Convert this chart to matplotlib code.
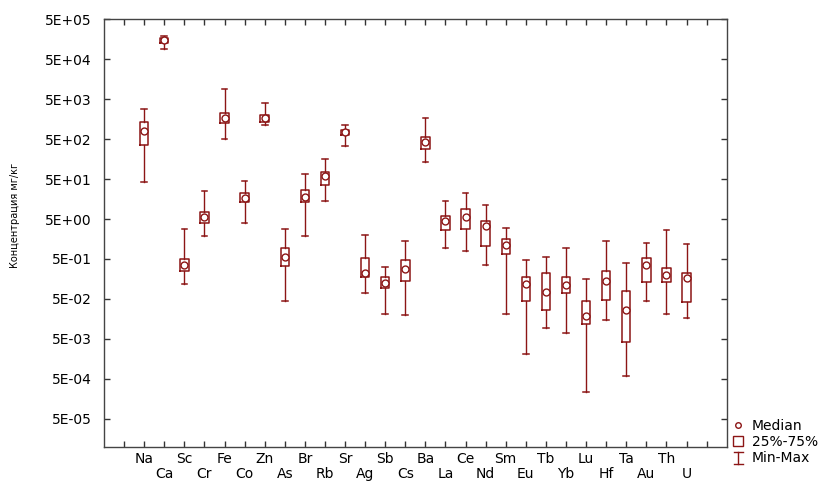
import matplotlib

matplotlib.use("Agg")
import matplotlib.pyplot as plt
from matplotlib.lines import Line2D
from matplotlib.patches import Rectangle
from matplotlib.legend_handler import HandlerBase
from matplotlib.ticker import FixedLocator, NullLocator

elements = ["Na", "Ca", "Sc", "Cr", "Fe", "Co", "Zn", "As", "Br", "Rb",
            "Sr", "Ag", "Sb", "Cs", "Ba", "La", "Ce", "Nd", "Sm", "Eu",
            "Tb", "Yb", "Lu", "Hf", "Ta", "Au", "Th", "U"]

v_min = [41.6, 88900, 0.115, 1.83, 506, 4.09, 1132, 0.0433, 1.93, 14.3,
         330, 0.0687, 0.0213, 0.0197, 137, 0.953, 0.77, 0.344, 0.0213, 0.00205,
         0.00953, 0.00698, 0.00023, 0.0148, 0.00059, 0.0441, 0.0213, 0.0169]
v_q1 = [350, 129000, 0.254, 4.09, 1270, 13.2, 1370, 0.338, 13.2, 36.4,
        622, 0.172, 0.0915, 0.143, 278, 2.62, 2.84, 1.03, 0.648, 0.0433,
        0.0262, 0.0687, 0.012, 0.0478, 0.00426, 0.1315, 0.1315, 0.0409]
v_med = [783, 149000, 0.344, 5.55, 1750, 16.9, 1750, 0.545, 18.3, 58.7,
         740, 0.226, 0.127, 0.273, 433, 4.59, 5.77, 3.44, 1.09, 0.115,
         0.0757, 0.111, 0.0186, 0.139, 0.0258, 0.358, 0.193, 0.166]
v_q3 = [1315, 172000, 0.486, 7.4, 2210, 22.1, 2080, 0.931, 27.3, 74,
        864, 0.536, 0.18, 0.467, 555, 5.87, 9.0, 4.51, 1.6, 0.175,
        0.221, 0.175, 0.0441, 0.248, 0.077, 0.536, 0.294, 0.217]
v_max = [2940, 194000, 2.84, 25.4, 9310, 45.9, 3930, 2.84, 67.5, 156,
         1130, 1.97, 0.319, 1.37, 1660, 13.9, 22.1, 11.3, 3.07, 0.459,
         0.568, 0.953, 0.154, 1.39, 0.393, 1.24, 2.62, 1.17]

y_ticks = [5e-5, 5e-4, 5e-3, 5e-2, 5e-1, 5e0, 5e1, 5e2, 5e3, 5e4, 5e5]

COL = "#8c1515"
plt.rcParams["font.family"] = ["DejaVu Sans"]
plt.rcParams["font.size"] = 10


class MinMaxHandler(HandlerBase):
    def create_artists(self, legend, orig, xd, yd, w, h, fontsize, trans):
        cx = w / 2 - xd
        y0, y1 = -yd - 0.15 * h, -yd + 1.05 * h
        cw = w * 0.45
        arts = [
            Line2D([cx, cx], [y0, y1], color=COL, lw=1.0),
            Line2D([cx - cw, cx + cw], [y0, y0], color=COL, lw=1.0),
            Line2D([cx - cw, cx + cw], [y1, y1], color=COL, lw=1.0),
        ]
        for a in arts:
            a.set_transform(trans)
        return arts


fig = plt.figure(figsize=(8.37, 4.83), dpi=100)
ax = fig.add_axes([104 / 837, 1 - 446.5 / 483, 622.7 / 837, 427 / 483])

stats = [
    {"whislo": lo, "q1": a, "med": m, "q3": b, "whishi": hi, "fliers": []}
    for lo, a, m, b, hi in zip(v_min, v_q1, v_med, v_q3, v_max)
]
pos = list(range(len(elements)))
ax.bxp(stats, positions=pos, widths=0.42, capwidths=0.28, showfliers=False,
       boxprops=dict(color=COL, lw=1.1),
       whiskerprops=dict(color=COL, lw=1.0),
       capprops=dict(color=COL, lw=1.1),
       medianprops=dict(lw=0))
ax.plot(pos, v_med, "o", ms=5, mfc="white", mec=COL, mew=1.0, ls="none")

ax.set_yscale("log")
ax.set_ylim(1e-5, 5e5)
ax.set_xlim(-2, 29)
ax.yaxis.set_major_locator(FixedLocator(y_ticks))
ax.yaxis.set_minor_locator(NullLocator())
ax.set_yticklabels([f"{v:.0E}" for v in y_ticks])
ax.set_xticks(pos)
ax.set_xticklabels([e if i % 2 == 0 else "\n" + e for i, e in enumerate(elements)],
                   linespacing=1.1)
ax.set_xticks([-1, 28], minor=True)
ax.tick_params(which="both", direction="in", length=4, width=1, color="#333333",
               top=True, right=True)
ax.tick_params(axis="y", pad=9)
ax.tick_params(axis="x", pad=4)
for s in ax.spines.values():
    s.set_color("#444444")
    s.set_linewidth(1.0)

ax.set_ylabel("Концентрация мг/кг", fontsize=7)
ax.yaxis.set_label_coords(-0.135, 0.54)

h_med = Line2D([], [], marker="o", ms=4, mfc="white", mec=COL, mew=1.0, ls="none")
h_box = Rectangle((0, 0), 1, 1, fc="none", ec=COL, lw=1.0)
h_mm = Line2D([], [], color=COL)
fig.legend([h_med, h_box, h_mm], ["Median", "25%-75%", "Min-Max"],
           handler_map={h_mm: MinMaxHandler()},
           loc="upper left", bbox_to_anchor=(733 / 837, 1 - 419 / 483),
           frameon=False, borderpad=0, borderaxespad=0, handlelength=0.75,
           handletextpad=0.6, labelspacing=0.15, fontsize=10)

fig.savefig("out.png", dpi=100)
